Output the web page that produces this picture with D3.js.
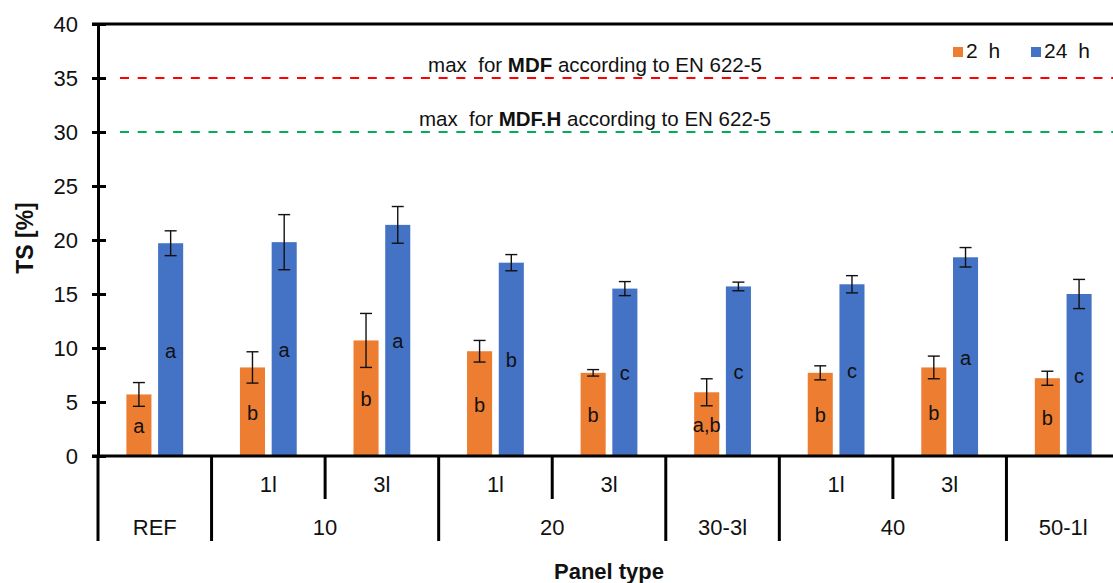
<!DOCTYPE html>
<html>
<head>
<meta charset="utf-8">
<script src="https://cdn.jsdelivr.net/npm/d3@7/dist/d3.min.js"></script>
<style>
  html, body { margin: 0; padding: 0; background: #fff; }
  svg { display: block; font-family: Arial, "Liberation Sans", sans-serif; }
</style>
</head>
<body>
<svg id="chart" width="1113" height="583"></svg>
<script>
// Thickness swelling after 2 h and 24 h per panel type
const categories = ['REF', '10-1l', '10-3l', '20-1l', '20-3l', '30-3l', '40-1l', '40-3l', '50-1l'];
const subLabels  = ['', '1l', '3l', '1l', '3l', '', '1l', '3l', ''];
const groupNames = ['REF', '10', '10', '20', '20', '30-3l', '40', '40', '50-1l'];

const seriesNames = ['2 h', '24 h'];
const ts2h   = [5.7, 8.2, 10.7, 9.7, 7.7, 5.9, 7.7, 8.2, 7.2];
const err2h  = [1.1, 1.45, 2.5, 1.0, 0.3, 1.25, 0.65, 1.05, 0.65];
const ts24h  = [19.7, 19.8, 21.4, 17.9, 15.5, 15.7, 15.9, 18.4, 15.0];
const err24h = [1.15, 2.55, 1.7, 0.75, 0.65, 0.4, 0.8, 0.9, 1.35];
const sig2h  = ['a', 'b', 'b', 'b', 'b', 'a,b', 'b', 'b', 'b'];
const sig24h = ['a', 'a', 'a', 'b', 'c', 'c', 'c', 'a', 'c'];

const yTicks = [0, 5, 10, 15, 20, 25, 30, 35, 40];
const limitValues = [35, 30];
const limitProducts = ['MDF', 'MDF.H'];
const limitColors = ['#FF0000', '#00B050'];

const colors = ['#ED7D31', '#4472C4'];

const svg = d3.select('#chart');
const x0 = 98, x1 = 1120, yTop = 24, yBottom = 456;

const x = d3.scaleBand().domain(categories).range([x0, x1]).paddingInner(0.5).paddingOuter(0.25);
const xs = d3.scaleBand().domain(seriesNames).range([0, x.bandwidth()]).paddingInner(0.21).paddingOuter(0);
const y = d3.scaleLinear().domain([0, 40]).range([yBottom, yTop]);

// limit lines from EN 622-5
const limits = limitValues.map((v, i) => ({ v, product: limitProducts[i], color: limitColors[i] }));
svg.selectAll('line.limit').data(limits).join('line')
  .attr('class', 'limit')
  .attr('x1', x0 + 22).attr('x2', 1113)
  .attr('y1', d => y(d.v)).attr('y2', d => y(d.v))
  .attr('stroke', d => d.color).attr('stroke-width', 2)
  .attr('stroke-dasharray', '9,8.7');

const lt = svg.selectAll('text.limit').data(limits).join('text')
  .attr('class', 'limit')
  .attr('x', 595).attr('y', d => y(d.v) - 6.5)
  .attr('text-anchor', 'middle')
  .attr('font-size', 20.5).attr('fill', '#111')
  .style('white-space', 'pre');
lt.append('tspan').text('max  for ');
lt.append('tspan').attr('font-weight', 'bold').text(d => d.product);
lt.append('tspan').text(' according to EN 622-5');

// bars
const rows = categories.map((c, i) => ({
  cat: c,
  items: [
    { s: seriesNames[0], v: ts2h[i], e: err2h[i], sig: sig2h[i], color: colors[0] },
    { s: seriesNames[1], v: ts24h[i], e: err24h[i], sig: sig24h[i], color: colors[1] }
  ]
}));

const g = svg.selectAll('g.cat').data(rows).join('g')
  .attr('class', 'cat')
  .attr('transform', d => `translate(${x(d.cat)},0)`);

g.selectAll('rect').data(d => d.items).join('rect')
  .attr('x', d => xs(d.s)).attr('width', xs.bandwidth())
  .attr('y', d => y(d.v)).attr('height', d => y(0) - y(d.v))
  .attr('fill', d => d.color);

// error bars
const cx = d => xs(d.s) + xs.bandwidth() / 2;
const eb = g.selectAll('g.err').data(d => d.items).join('g').attr('class', 'err')
  .attr('stroke', '#111').attr('stroke-width', 1.4);
eb.append('line')
  .attr('x1', cx).attr('x2', cx)
  .attr('y1', d => y(d.v + d.e)).attr('y2', d => y(d.v - d.e));
eb.append('line')
  .attr('x1', d => cx(d) - 6).attr('x2', d => cx(d) + 6)
  .attr('y1', d => y(d.v + d.e)).attr('y2', d => y(d.v + d.e));
eb.append('line')
  .attr('x1', d => cx(d) - 6).attr('x2', d => cx(d) + 6)
  .attr('y1', d => y(d.v - d.e)).attr('y2', d => y(d.v - d.e));

// significance letters at bar centre
g.selectAll('text.sig').data(d => d.items).join('text')
  .attr('class', 'sig')
  .attr('x', cx)
  .attr('y', d => (y(d.v) + y(0)) / 2 + 8)
  .attr('text-anchor', 'middle')
  .attr('font-size', 20).attr('fill', '#111')
  .text(d => d.sig);

// y axis
const yAxis = d3.axisLeft(y).tickValues(yTicks).tickSizeInner(6).tickSizeOuter(0).tickPadding(14);
const ya = svg.append('g').attr('transform', `translate(${x0},0)`).call(yAxis);
ya.select('.domain').attr('stroke', '#000').attr('stroke-width', 3);
ya.selectAll('.tick line').attr('stroke', '#000').attr('stroke-width', 3);
ya.selectAll('.tick').append('line').attr('x1', 0).attr('x2', 8).attr('stroke', '#000').attr('stroke-width', 3);
ya.selectAll('.tick text').attr('font-size', 22).attr('fill', '#111')
  .attr('font-family', 'Arial, "Liberation Sans", sans-serif');

// top border and x axis baseline
svg.append('line').attr('x1', x0 - 6).attr('x2', 1113).attr('y1', y(40)).attr('y2', y(40))
  .attr('stroke', '#000').attr('stroke-width', 3);
svg.append('line').attr('x1', x0 - 6).attr('x2', 1113).attr('y1', y(0)).attr('y2', y(0))
  .attr('stroke', '#000').attr('stroke-width', 3);

// multi-level category axis
const rowTop = yBottom, rowMid = 499, rowBot = 541;
const half = x.step() / 2;
const bounds = [];
for (let i = 0; i <= categories.length; i++) {
  const pos = i < categories.length
    ? x(categories[i]) + x.bandwidth() / 2 - half
    : x(categories[i - 1]) + x.bandwidth() / 2 + half;
  const prevGroup = i > 0 ? groupNames[i - 1] : null;
  const nextGroup = i < categories.length ? groupNames[i] : null;
  bounds.push({ pos, long: prevGroup !== nextGroup });
}
svg.selectAll('line.sep').data(bounds).join('line')
  .attr('class', 'sep')
  .attr('x1', d => d.pos).attr('x2', d => d.pos)
  .attr('y1', rowTop).attr('y2', d => d.long ? rowBot : rowMid)
  .attr('stroke', '#000').attr('stroke-width', 3);

svg.selectAll('text.sub').data(categories.map((c, i) => ({ c, t: subLabels[i] })).filter(d => d.t))
  .join('text').attr('class', 'sub')
  .attr('x', d => x(d.c) + x.bandwidth() / 2).attr('y', 492)
  .attr('text-anchor', 'middle').attr('font-size', 22).attr('fill', '#111')
  .text(d => d.t);

const groups = d3.groups(categories.map((c, i) => ({ c, g: groupNames[i] })), d => d.g)
  .map(([name, items]) => ({
    name,
    center: (x(items[0].c) + x(items[items.length - 1].c) + x.bandwidth()) / 2
  }));
svg.selectAll('text.grp').data(groups).join('text').attr('class', 'grp')
  .attr('x', d => d.center).attr('y', 535)
  .attr('text-anchor', 'middle').attr('font-size', 22).attr('fill', '#111')
  .text(d => d.name);

// axis titles
svg.append('text').attr('x', (x0 + x1) / 2).attr('y', 579)
  .attr('text-anchor', 'middle').attr('font-size', 22).attr('font-weight', 'bold').attr('fill', '#111')
  .text('Panel type');
svg.append('text').attr('transform', `translate(33,238) rotate(-90)`)
  .attr('text-anchor', 'middle').attr('font-size', 23).attr('font-weight', 'bold').attr('fill', '#111')
  .text('TS [%]');

// legend
const legend = svg.selectAll('g.leg').data(seriesNames).join('g').attr('class', 'leg')
  .attr('transform', (d, i) => `translate(${[953, 1031][i]},47)`);
legend.append('rect').attr('width', 10).attr('height', 10).attr('fill', (d, i) => colors[i]);
legend.append('text').attr('x', 13).attr('y', 11).attr('font-size', 21).attr('word-spacing', 5)
  .attr('fill', '#111').text(d => d);
</script>
</body>
</html>
